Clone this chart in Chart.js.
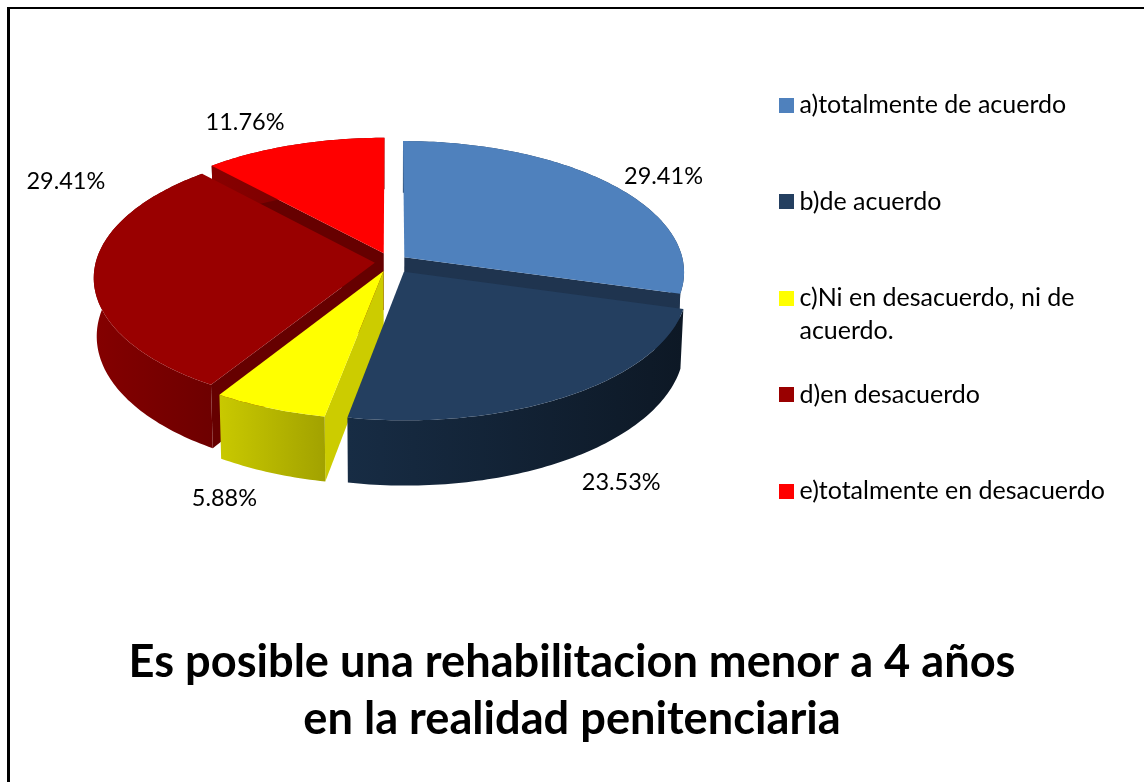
<!DOCTYPE html>
<html><head><meta charset="utf-8">
<script src="https://cdn.jsdelivr.net/npm/chart.js@4"></script>
<style>
html,body{margin:0;padding:0;background:#fff;overflow:hidden}
#wrap{position:relative;width:1144px;height:782px}
#c{position:absolute;left:0;top:0}
#frame{position:absolute;left:7px;top:7px;right:0;bottom:0;border-top:2px solid #000;border-left:3px solid #000;pointer-events:none}
</style></head><body>
<div id="wrap"><canvas id="c" width="1144" height="782"></canvas><div id="frame"></div></div>
<script>
// ---- data ----
const categories = ['a)totalmente de acuerdo','b)de acuerdo','c)Ni en desacuerdo, ni de acuerdo.','d)en desacuerdo','e)totalmente en desacuerdo'];
const percentages = [29.41, 23.53, 5.88, 29.41, 11.76];
const titleLines = ['Es posible una rehabilitacion menor a 4 años','en la realidad penitenciaria'];
// ---- styles ----
const topColors = ['#4F81BD','#243F60','#FFFF00','#990000','#FF0000'];
const cutColors = ['#1F344F','#16273C','#CCCC00','#660000','#660000'];
const rimStart  = ['#2A4565','#172C44','#C9C900','#840000','#880000'];
const rimEnd    = ['#1F344F','#0D1825','#A2A200','#6E0000','#6E0000'];
const explode   = [16.5, 24, 20, 16, 20];
const drawOrder = [4,0,3,2,1];
const labelNudge = [[52,-8],[52.5,86.5],[-45,90],[-28,-93],[-48.6,-22]];
const view = {cx:391, cy:262, radius:275, xScale:279/275, yScale:130/275, persp:0.11, depth:57.5, bottomShrink:0.99};
const FONT = 'Lato, Carlito, sans-serif';
const legendFont = 25, labelFont = 23.5, legendBox = 2, legendStep = 96.5, legendPad = legendStep - legendFont;
const legendLeft = 713.5, legendTop = 105 - legendFont/2 - legendPad;

function swatch(color){
  const s=document.createElement('canvas'); s.width=15; s.height=15;
  const g=s.getContext('2d'); g.fillStyle=color; g.fillRect(0,0,15,15); return s;
}
function project(dx,dy){
  const v=dy/view.radius, den=1-view.persp*v;
  return {x:view.cx+dx*view.xScale/den, y:view.cy+dy*view.yScale/den, den};
}
function lower(p){
  return {x:view.cx+(p.x-view.cx)*view.bottomShrink, y:p.y+view.depth/p.den};
}
function tracePoly(ctx,pts){
  ctx.beginPath(); pts.forEach((p,i)=> i?ctx.lineTo(p.x,p.y):ctx.moveTo(p.x,p.y)); ctx.closePath();
}
function drawSlice(ctx,arc,i){
  const a0=arc.startAngle,a1=arc.endAngle,R=arc.outerRadius,mid=(a0+a1)/2;
  const ox=Math.cos(mid)*arc.options.offset/4, oy=Math.sin(mid)*arc.options.offset/4;
  const apex=project(ox,oy), rim=[];
  const n=Math.max(2,Math.ceil((a1-a0)/(Math.PI/180)));
  for(let k=0;k<=n;k++){const t=a0+(a1-a0)*k/n; rim.push(project(ox+R*Math.cos(t),oy+R*Math.sin(t)));}
  // radial cut faces
  ctx.fillStyle=cutColors[i];
  if(Math.sin(a0-Math.PI/2)>1e-6){ const e=rim[0]; tracePoly(ctx,[apex,e,lower(e),lower(apex)]); ctx.fill(); }
  if(Math.sin(a1+Math.PI/2)>1e-6){ const e=rim[n]; tracePoly(ctx,[apex,e,lower(e),lower(apex)]); ctx.fill(); }
  // outer rim wall
  const lows=rim.map(lower);
  const xs=rim.map(p=>p.x), g=ctx.createLinearGradient(Math.min(...xs),0,Math.max(...xs),0);
  g.addColorStop(0,rimStart[i]); g.addColorStop(1,rimEnd[i]);
  ctx.fillStyle=g; tracePoly(ctx,rim.concat(lows.slice().reverse())); ctx.fill();
  // top face
  ctx.fillStyle=topColors[i]; tracePoly(ctx,[apex].concat(rim)); ctx.fill();
}
const legendWrap=['c)Ni en desacuerdo, ni de','acuerdo.'];
const pie3d={
  id:'pie3d',
  afterLayout(chart){
    const l=chart.legend, w=l.width, h=l.height;
    l.left=legendLeft; l.right=legendLeft+w; l.top=legendTop; l.bottom=legendTop+h;
  },
  beforeDatasetDraw(chart,args){
    const ctx=chart.ctx, arcs=args.meta.data;
    ctx.save();
    drawOrder.forEach(i=>drawSlice(ctx,arcs[i],i));
    // percentage labels
    ctx.fillStyle='#000'; ctx.font=labelFont+'px '+FONT; ctx.textAlign='center'; ctx.textBaseline='middle';
    arcs.forEach((arc,i)=>{
      const mid=(arc.startAngle+arc.endAngle)/2, r=arc.outerRadius+arc.options.offset/4;
      const p=project(r*Math.cos(mid),r*Math.sin(mid));
      ctx.fillText(percentages[i].toFixed(2)+'%',p.x+labelNudge[i][0],p.y+labelNudge[i][1]);
    });
    ctx.restore();
    return false;
  },
  afterDraw(chart){
    // wrapped second line of the third legend entry
    const l=chart.legend, ctx=chart.ctx;
    ctx.save(); ctx.fillStyle='#000'; ctx.font=legendFont+'px '+FONT; ctx.textBaseline='middle';
    ctx.fillText(legendWrap[1], l.left+legendPad+legendBox+legendFont/2, l.top+legendPad+2*legendStep+legendFont/2+33);
    ctx.restore();
  }
};
new Chart(document.getElementById('c'),{
  type:'pie',
  plugins:[pie3d],
  data:{labels:categories,datasets:[{data:percentages,backgroundColor:topColors,borderWidth:0,offset:explode.map(e=>e*4),radius:view.radius}]},
  options:{
    responsive:false,animation:false,devicePixelRatio:1,events:[],
    radius:view.radius,
    plugins:{
      tooltip:{enabled:false},
      title:{display:true,position:'bottom',text:titleLines,color:'#000',
        font:{family:FONT,size:45.2,weight:'bold',lineHeight:57/45.2},padding:{top:35,bottom:34}},
      legend:{display:true,position:'right',align:'start',
        labels:{font:{family:FONT,size:legendFont},color:'#000',padding:legendPad,usePointStyle:true,boxWidth:legendBox,boxHeight:legendBox,
          generateLabels(chart){
            return categories.map((c,i)=>({text:i===2?legendWrap[0]:c,fillStyle:topColors[i],strokeStyle:topColors[i],lineWidth:0,hidden:false,index:i,pointStyle:swatch(topColors[i]),fontColor:'#000'}));
          }}}
    }
  }
});
</script></body></html>
